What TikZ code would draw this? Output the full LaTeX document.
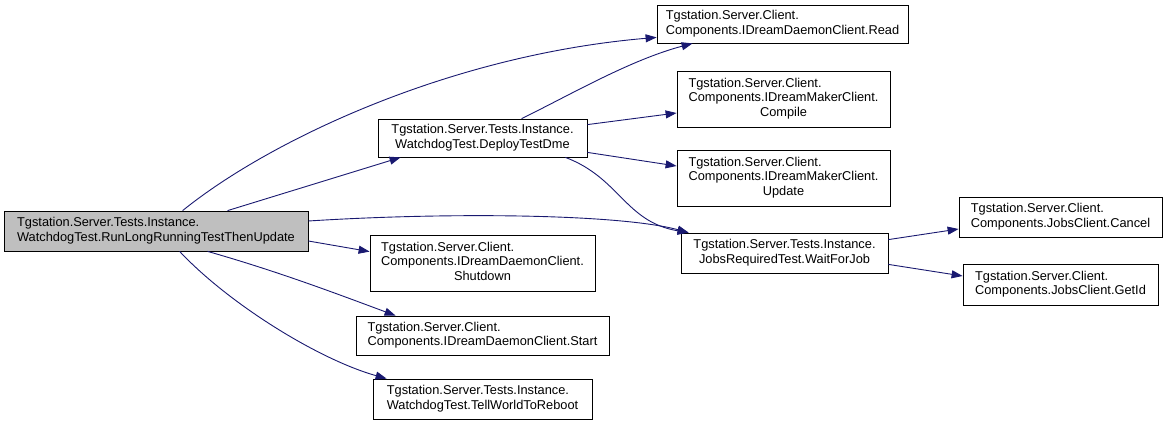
\documentclass[tikz,border=0pt]{standalone}
\usepackage{fontspec}
\setmainfont{Liberation Sans}
\usetikzlibrary{arrows.meta}
\definecolor{edgec}{RGB}{25,25,112}
\definecolor{rootfill}{RGB}{191,191,191}
\newcommand{\twol}[2]{\begin{tabular}{@{}l@{}}#1\\\multicolumn{1}{@{}c@{}}{#2}\end{tabular}}
\newcommand{\threel}[3]{\begin{tabular}{@{}l@{}}#1\\#2\\\multicolumn{1}{@{}c@{}}{#3}\end{tabular}}
\begin{document}
\begin{tikzpicture}[x=1pt,y=-1pt,
  font=\fontsize{12.8}{14.5}\selectfont,
  box/.style={draw=black, fill=white, inner sep=0pt, line width=0.8pt},
  edge/.style={draw=edgec, line width=0.9pt, -{Triangle[length=11pt,width=8pt]}, fill=none}]
\useasboundingbox (0,0) rectangle (1168,428);
% nodes
\node[box, fill=rootfill, minimum width=304pt, minimum height=40pt] (root) at (156,231)
  {\twol{Tgstation.Server.Tests.Instance.}{WatchdogTest.RunLongRunningTestThenUpdate}};
\node[box, minimum width=209pt, minimum height=38pt] (deploy) at (482.5,138)
  {\twol{Tgstation.Server.Tests.Instance.}{WatchdogTest.DeployTestDme}};
\node[box, minimum width=251pt, minimum height=38pt] (read) at (782.5,24)
  {\twol{Tgstation.Server.Client.}{Components.IDreamDaemonClient.Read}};
\node[box, minimum width=213pt, minimum height=56pt] (compile) at (783.5,99)
  {\threel{Tgstation.Server.Client.}{Components.IDreamMakerClient.}{Compile}};
\node[box, minimum width=213pt, minimum height=56pt] (update) at (783.5,178)
  {\threel{Tgstation.Server.Client.}{Components.IDreamMakerClient.}{Update}};
\node[box, minimum width=207pt, minimum height=40pt] (wait) at (784.5,253)
  {\twol{Tgstation.Server.Tests.Instance.}{JobsRequiredTest.WaitForJob}};
\node[box, minimum width=203pt, minimum height=40pt] (cancel) at (1060.5,217)
  {\twol{Tgstation.Server.Client.}{Components.JobsClient.Cancel}};
\node[box, minimum width=195pt, minimum height=41pt] (getid) at (1060.5,284.5)
  {\twol{Tgstation.Server.Client.}{Components.JobsClient.GetId}};
\node[box, minimum width=225pt, minimum height=56pt] (shutdown) at (482.5,263)
  {\threel{Tgstation.Server.Client.}{Components.IDreamDaemonClient.}{Shutdown}};
\node[box, minimum width=253pt, minimum height=39pt] (start) at (482.5,335.5)
  {\twol{Tgstation.Server.Client.}{Components.IDreamDaemonClient.Start}};
\node[box, minimum width=219pt, minimum height=40pt] (tell) at (482.5,399)
  {\twol{Tgstation.Server.Tests.Instance.}{WatchdogTest.TellWorldToReboot}};
% edges
\draw[edge] ([xshift=179pt]root.north west) .. controls (270,140) and (450,55) .. ([yshift=6pt]read.south west);
\draw[edge] ([xshift=224pt]root.north west) -- ([xshift=23pt]deploy.south west);
\draw[edge] ([yshift=10pt]root.east) .. controls (450,212) and (620,214) .. ([xshift=8pt]wait.north west);
\draw[edge] ([yshift=-10pt]root.east) -- ([yshift=-17pt]shutdown.north west);
\draw[edge] ([xshift=204pt]root.south west) .. controls (280,272) and (340,295) .. ([xshift=40pt]start.north west);
\draw[edge] ([xshift=176pt]root.south west) .. controls (230,305) and (320,360) .. ([xshift=14pt]tell.north west);
\draw[edge] ([xshift=144pt]deploy.north west) .. controls (570,95) and (630,60) .. ([xshift=36pt]read.south west);
\draw[edge] ([yshift=-6pt]deploy.north east) -- ([yshift=-14pt]compile.west);
\draw[edge] ([yshift=5pt]deploy.south east) -- ([yshift=12pt]update.west);
\draw[edge] ([xshift=-22pt]deploy.south east) .. controls (620,178) and (625,222) .. ([xshift=8pt]wait.north west);
\draw[edge] ([yshift=-7pt]wait.north east) -- ([yshift=-12pt]cancel.west);
\draw[edge] ([yshift=9pt]wait.south east) -- ([yshift=8.5pt]getid.west);
\end{tikzpicture}
\end{document}
